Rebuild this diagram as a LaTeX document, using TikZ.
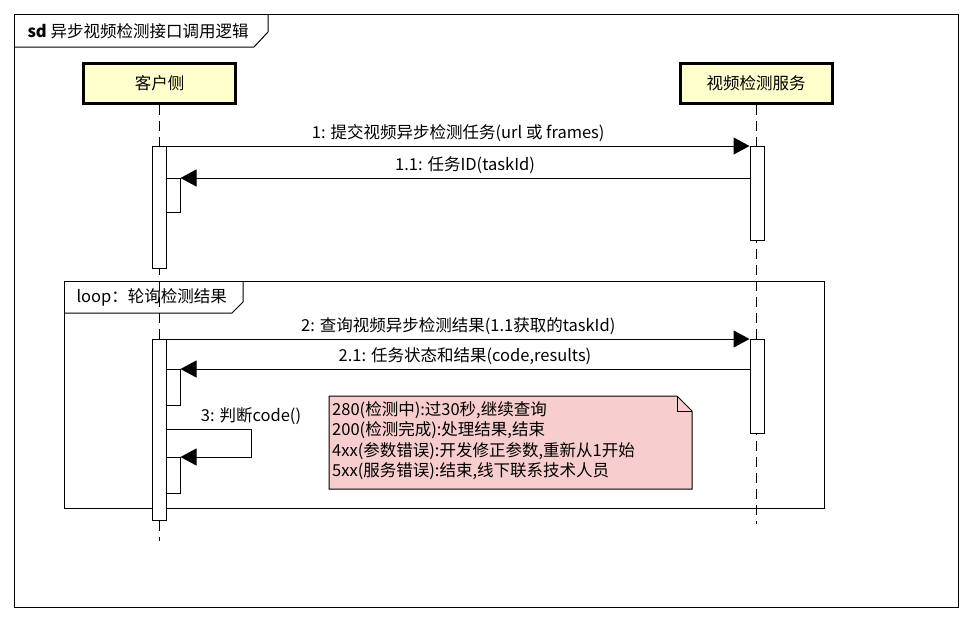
\documentclass[tikz,border=0pt]{standalone}
\usepackage{fontspec}
\setmainfont{Noto Sans CJK SC}
\usetikzlibrary{arrows.meta}
\definecolor{actorfill}{RGB}{255,255,206}
\definecolor{notefill}{RGB}{247,205,205}
\tikzset{
  actor/.style={draw, line width=3pt, fill=actorfill, minimum width=152pt, minimum height=40pt, inner sep=0pt},
  act/.style={draw, fill=white, line width=1pt, minimum width=14pt, inner sep=0pt, anchor=north},
  lifeline/.style={line width=1pt, dash pattern=on 10pt off 6pt},
  msg/.style={line width=1pt, -{Triangle[length=16pt,width=17pt]}},
  frame/.style={line width=1pt},
}
\begin{document}
\begin{tikzpicture}[x=1pt,y=-1pt, every node/.style={font=\fontsize{16.5}{20}\selectfont}]
    \useasboundingbox (0,0) rectangle (970,621);

    \draw[frame] (14,14) rectangle (958,607);
    \draw[frame] (14,47) -- (254,47) -- (268,32) -- (268,14);
    \node[anchor=west] (title) at (24,31) {\textbf{sd} 异步视频检测接口调用逻辑};

    \draw[frame] (64,281) rectangle (824,508);
    \draw[frame] (64,313) -- (232,313) -- (243,302) -- (243,281);
    \node[anchor=west] (looplbl) at (73,297) {loop：轮询检测结果};

    \node[actor] (client) at (159.5,83) {客户侧};
    \node[actor] (server) at (756,83) {视频检测服务};

    \coordinate (cend) at (159.5,541);
    \coordinate (send) at (756,524);
    \draw[lifeline] (client.south) -- (cend);
    \draw[lifeline] (server.south) -- (send);

    \node[act, minimum height=122pt] (c1) at (159.5,146) {};
    \node[act, minimum height=34pt] (c11) at (173,178) {};
    \node[act, minimum height=94pt] (s1) at (757,146) {};
    \node[act, minimum height=181pt] (c2) at (159.5,339) {};
    \node[act, minimum height=36pt] (c21) at (173,369) {};
    \node[act, minimum height=36pt] (c3) at (173,457) {};
    \node[act, minimum height=94pt] (s2) at (757,339) {};

    \draw[msg] (c1.north east) -- (s1.north west) node[midway, above] {1: 提交视频异步检测任务(url 或 frames)};
    \draw[msg] (s1.west |- c11.north) -- (c11.north east) node[midway, above] {1.1: 任务ID(taskId)};
    \draw[msg] (c2.north east) -- (s2.north west) node[midway, above] {2: 查询视频异步检测结果(1.1获取的taskId)};
    \draw[msg] (s2.west |- c21.north) -- (c21.north east) node[midway, above] {2.1: 任务状态和结果(code,results)};

    \coordinate (q3) at (251,429);
    \draw[msg] (c2.east |- q3) -- (q3) node[above] {3: 判断code()} |- (c3.north east);

    \draw[line width=1pt, fill=notefill] (329,396) -- (677,396) -- (692,411) -- (692,489) -- (329,489) -- cycle;
    \draw[line width=1pt] (677,396) -- (677,411) -- (692,411);
    \node[anchor=north west, align=left, inner sep=0pt, font=\fontsize{16.5}{20.5}\selectfont] (note) at (332,401)
        {280(检测中):过30秒,继续查询\\200(检测完成):处理结果,结束\\4xx(参数错误):开发修正参数,重新从1开始\\5xx(服务错误):结束,线下联系技术人员};
\end{tikzpicture}
\end{document}
